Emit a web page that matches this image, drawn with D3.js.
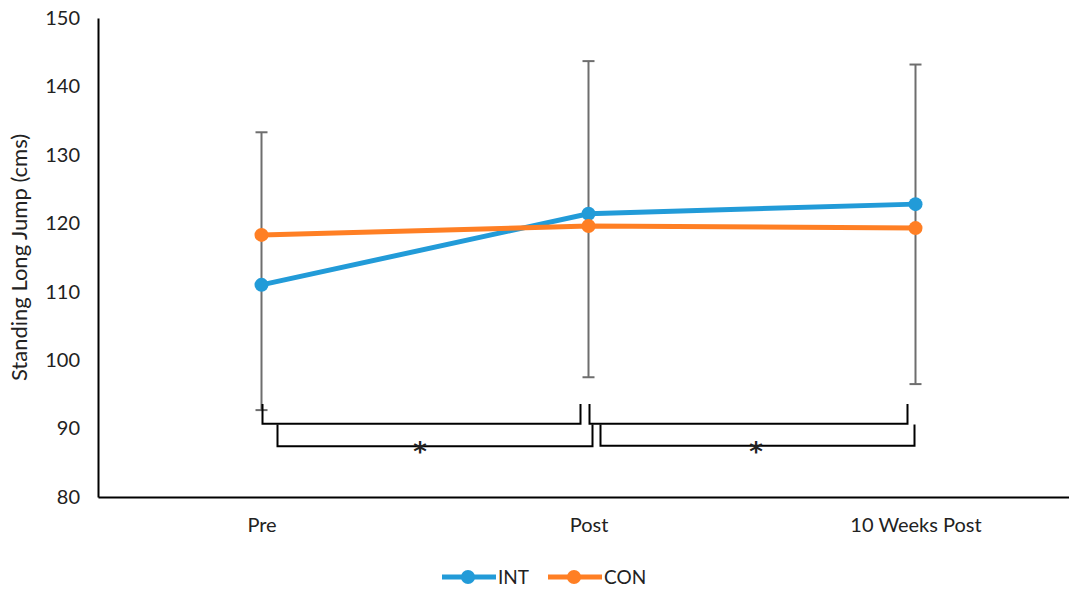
<!DOCTYPE html>
<html lang="en">
<head>
    <meta charset="utf-8">
    <title>Standing Long Jump</title>
    <script src="https://cdn.jsdelivr.net/npm/d3@7"></script>
    <style>
        body { margin: 0; background: #fff; }
        text { font-family: Lato, "Open Sans", sans-serif; fill: #222; }
    </style>
</head>
<body>
<div id="chart"></div>
<script>
    var categories = ["Pre", "Post", "10 Weeks Post"];
    var intValues = [111.0, 121.4, 122.8];
    var conValues = [118.3, 119.6, 119.3];
    var errUpper = [133.3, 143.7, 143.2];
    var errLower = [92.7, 97.5, 96.5];
    var yTicks = [80, 90, 100, 110, 120, 130, 140, 150];

    var w = 1069, h = 590;
    var padLeft = 98, padRight = 1079, padTop = 18, padBottom = 497;

    var svg = d3.select("#chart").append("svg")
        .attr("width", w).attr("height", h);

    var xScale = d3.scalePoint().domain(categories).range([padLeft, padRight]).padding(0.5);
    var yScale = d3.scaleLinear().domain([80, 150]).range([padBottom, padTop]);

    // y axis
    var yAxis = d3.axisLeft(yScale).tickValues(yTicks).tickSize(0).tickPadding(18);
    var gy = svg.append("g").attr("transform", "translate(" + padLeft + ",0)").call(yAxis);
    gy.select(".domain").attr("stroke", "#000").attr("stroke-width", 2);
    gy.selectAll("text").style("font-size", "20px").style("font-family", "Lato, sans-serif").attr("fill", "#222");

    // x axis
    var xAxis = d3.axisBottom(xScale).tickSize(0).tickPadding(21);
    var gx = svg.append("g").attr("transform", "translate(0," + padBottom + ")").call(xAxis);
    gx.select(".domain").attr("stroke", "#000").attr("stroke-width", 2);
    gx.selectAll("text").style("font-size", "20px").style("font-family", "Lato, sans-serif").attr("fill", "#222");

    svg.append("text")
        .attr("text-anchor", "middle")
        .attr("transform", "translate(27," + (padTop + padBottom) / 2 + ")rotate(-90)")
        .style("font-size", "22px")
        .text("Standing Long Jump (cms)");

    // error bars
    var eb = svg.append("g").attr("stroke", "#6e6e6e").attr("stroke-width", 2);
    categories.forEach(function (c, i) {
        var x = xScale(c);
        eb.append("line").attr("x1", x).attr("x2", x)
            .attr("y1", yScale(errUpper[i])).attr("y2", yScale(errLower[i]));
        [errUpper[i], errLower[i]].forEach(function (v) {
            eb.append("line").attr("x1", x - 6).attr("x2", x + 6)
                .attr("y1", yScale(v)).attr("y2", yScale(v));
        });
    });

    // series
    var series = [
        {name: "INT", values: intValues, color: "#229bd8"},
        {name: "CON", values: conValues, color: "#ff7f24"}
    ];
    var line = d3.line()
        .x(function (d, i) { return xScale(categories[i]); })
        .y(function (d) { return yScale(d); });

    series.forEach(function (s) {
        svg.append("path").datum(s.values)
            .attr("d", line).attr("fill", "none")
            .attr("stroke", s.color).attr("stroke-width", 5)
            .attr("stroke-linejoin", "round");
        svg.selectAll(null).data(s.values).enter().append("circle")
            .attr("cx", function (d, i) { return xScale(categories[i]); })
            .attr("cy", function (d) { return yScale(d); })
            .attr("r", 7).attr("fill", s.color);
    });

    // significance brackets: [from cat, dx1, to cat, dx2, y top, y bottom]
    var brackets = [
        [0, 1, 1, -8, 93.6, 90.7],
        [0, 16, 1, 4, 90.6, 87.4],
        [1, 1, 2, -8, 93.6, 90.7],
        [1, 12, 2, -1, 90.6, 87.5]
    ];
    brackets.forEach(function (b) {
        var x1 = xScale(categories[b[0]]) + b[1];
        var x2 = xScale(categories[b[2]]) + b[3];
        var y1 = yScale(b[4]), y2 = yScale(b[5]);
        svg.append("path")
            .attr("d", "M" + x1 + "," + y1 + "V" + y2 + "H" + x2 + "V" + y1)
            .attr("fill", "none").attr("stroke", "#000").attr("stroke-width", 2);
    });
    // asterisks: [from cat, to cat, dx]
    [[0, 1, -5], [1, 2, 4]].forEach(function (p) {
        var x = (xScale(categories[p[0]]) + xScale(categories[p[1]])) / 2 + p[2];
        svg.append("text").attr("x", x).attr("y", yScale(87.5) + 15)
            .attr("text-anchor", "middle")
            .style("font-family", "'DejaVu Sans', sans-serif")
            .style("font-weight", "bold")
            .style("font-size", "26px").text("*");
    });

    // legend
    var legend = svg.append("g").attr("transform", "translate(442,577)");
    series.forEach(function (s, i) {
        var g = legend.append("g").attr("transform", "translate(" + (i * 106) + ",0)");
        g.append("line").attr("x1", 0).attr("x2", 54).attr("y1", 0).attr("y2", 0)
            .attr("stroke", s.color).attr("stroke-width", 5);
        g.append("circle").attr("cx", 26).attr("cy", 0).attr("r", 7).attr("fill", s.color);
        g.append("text").attr("x", 56).attr("y", 7).style("font-size", "19px").text(s.name);
    });
</script>
</body>
</html>
